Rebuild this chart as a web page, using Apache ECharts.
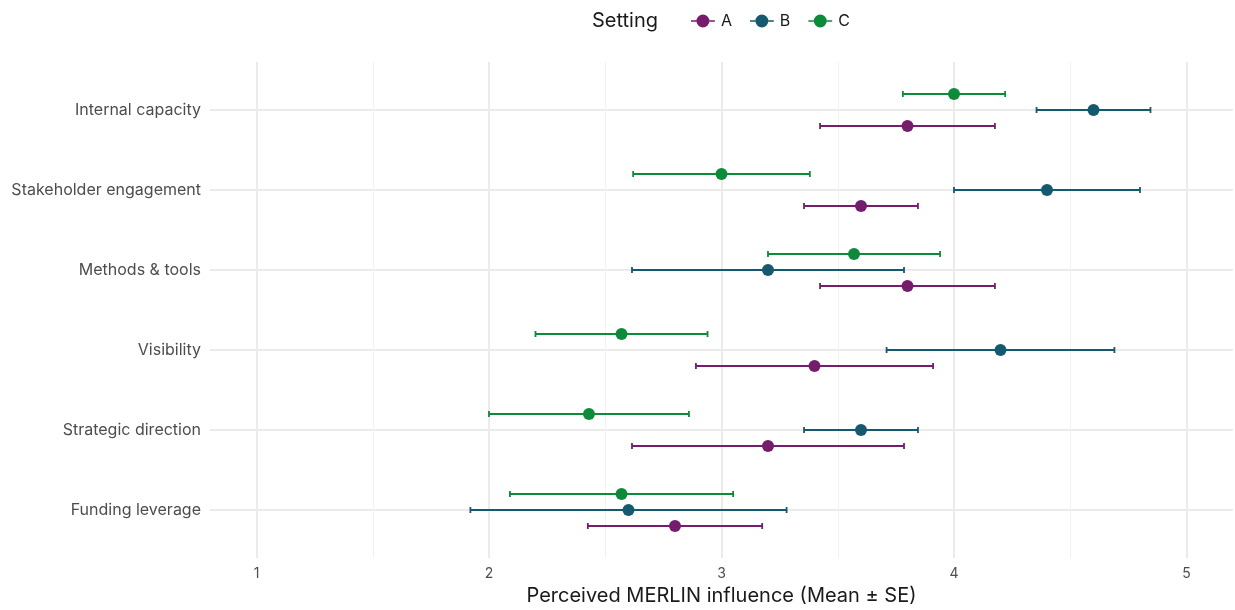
<!DOCTYPE html>
<html>
<head>
<meta charset="utf-8">
<script src="https://cdn.jsdelivr.net/npm/echarts@6/dist/echarts.min.js"></script>
<style>html,body{margin:0;padding:0;background:#fff}#c{width:1235px;height:610px}</style>
</head>
<body>
<div id="c"></div>
<script>
// Categories, top to bottom
const categories = ["Internal capacity", "Stakeholder engagement", "Methods & tools", "Visibility", "Strategic direction", "Funding leverage"];
const settings = ["A", "B", "C"];
// Means per setting (same order as categories)
const meanA = [3.80, 3.60, 3.80, 3.40, 3.20, 2.80];
const meanB = [4.60, 4.40, 3.20, 4.20, 3.60, 2.60];
const meanC = [4.00, 3.00, 3.57, 2.57, 2.43, 2.57];
// Standard errors
const seA = [0.376, 0.245, 0.376, 0.51, 0.585, 0.375];
const seB = [0.245, 0.40, 0.585, 0.49, 0.245, 0.68];
const seC = [0.22, 0.38, 0.37, 0.37, 0.43, 0.48];
const xTicks = [1, 2, 3, 4, 5];
const xMinor = [1.5, 2.5, 3.5, 4.5];

const colors = {A: "#771B6D", B: "#145A6E", C: "#0C8B3B"};
const dodge = {A: -0.2, B: 0, C: 0.2};
const means = {A: meanA, B: meanB, C: meanC};
const ses = {A: seA, B: seB, C: seC};
const n = categories.length;
const yPos = categories.map((c, i) => n - i);

const FONT = "Inter, 'Noto Sans', sans-serif";
const legendIcon = "path://M0,5.2H5V6.8H0Z M17,5.2H22V6.8H17Z M5,6A6,6 0 1,1 17,6A6,6 0 1,1 5,6Z";

const series = [];
settings.forEach(s => {
  series.push({
    name: s,
    type: "custom",
    z: 2,
    data: categories.map((c, i) => [means[s][i] - ses[s][i], means[s][i] + ses[s][i], yPos[i] + dodge[s]]),
    renderItem: function (params, api) {
      const lo = api.coord([api.value(0), api.value(2)]);
      const hi = api.coord([api.value(1), api.value(2)]);
      const h = 3;
      const style = {stroke: colors[s], lineWidth: 1.8, fill: null};
      return {
        type: "group",
        children: [
          {type: "line", shape: {x1: lo[0], y1: lo[1], x2: hi[0], y2: hi[1]}, style: style},
          {type: "line", shape: {x1: lo[0], y1: lo[1] - h, x2: lo[0], y2: lo[1] + h}, style: style},
          {type: "line", shape: {x1: hi[0], y1: hi[1] - h, x2: hi[0], y2: hi[1] + h}, style: style}
        ]
      };
    },
    encode: {x: [0, 1], y: 2}
  });
  series.push({
    name: s,
    type: "scatter",
    z: 3,
    symbol: "circle",
    symbolSize: 12,
    itemStyle: {color: colors[s], opacity: 1},
    data: categories.map((c, i) => [means[s][i], yPos[i] + dodge[s]])
  });
});

const chart = echarts.init(document.getElementById("c"), null, {renderer: "canvas"});
chart.setOption({
  animation: false,
  backgroundColor: "#ffffff",
  title: {
    text: "Setting",
    left: 587, top: 6,
    textStyle: {fontFamily: FONT, fontSize: 20, fontWeight: "normal", color: "#1a1a1a"}
  },
  legend: {
    left: 686, top: 8,
    itemWidth: 24, itemHeight: 13, itemGap: 18,
    data: settings.map(s => ({name: s, icon: legendIcon, itemStyle: {color: colors[s]}})),
    textStyle: {fontFamily: FONT, fontSize: 16, color: "#1a1a1a", padding: [0, 0, 0, 1]},
    selectedMode: false
  },
  grid: {left: 210, right: 2, top: 62, bottom: 52, containLabel: false, outerBoundsMode: "none"},
  xAxis: [
    {
      type: "value", min: 0.8, max: 5.2, position: "bottom",
      name: "Perceived MERLIN influence (Mean ± SE)",
      nameLocation: "middle", nameGap: 27,
      nameTextStyle: {fontFamily: FONT, fontSize: 20, color: "#1a1a1a"},
      axisLine: {show: false},
      axisTick: {show: false, customValues: xTicks},
      axisLabel: {customValues: xTicks, margin: 9, fontFamily: FONT, fontSize: 14, color: "#4d4d4d"},
      splitLine: {show: true, lineStyle: {color: "#EBEBEB", width: 2}}
    },
    {
      type: "value", min: 0.8, max: 5.2, position: "top",
      axisLine: {show: false},
      axisTick: {show: false, customValues: xMinor},
      axisLabel: {show: false, customValues: xMinor},
      splitLine: {show: true, lineStyle: {color: "#F2F2F2", width: 1}}
    }
  ],
  yAxis: {
    type: "value", min: 0.4, max: 6.6,
    axisLine: {show: false},
    axisTick: {show: false, customValues: yPos},
    axisLabel: {
      customValues: yPos, margin: 9,
      fontFamily: FONT, fontSize: 16, color: "#4d4d4d",
      formatter: v => categories[n - Math.round(v)]
    },
    splitLine: {show: true, lineStyle: {color: "#EBEBEB", width: 2}}
  },
  series: series
});
</script>
</body>
</html>
